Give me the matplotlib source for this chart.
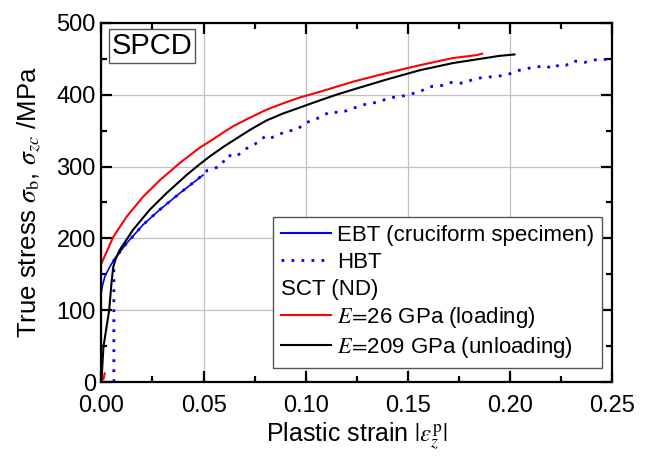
import matplotlib
matplotlib.use("Agg")
import matplotlib.pyplot as plt
from matplotlib.lines import Line2D
from matplotlib.ticker import MultipleLocator, FormatStrFormatter
import numpy as np

plt.rcParams['font.family'] = 'Liberation Sans'
plt.rcParams['mathtext.fontset'] = 'stix'

# EBT (cruciform specimen), blue solid
ebt_x = [0.0, 0.0004, 0.0017, 0.0040, 0.0066, 0.0123, 0.0204, 0.0286, 0.0384, 0.0465, 0.0497]
ebt_y = [125, 133, 147, 160, 172, 193, 219, 240, 263, 281, 288]

# HBT, blue dotted
hbt_x = [0.0061, 0.0061, 0.0066, 0.0123, 0.0204, 0.0286, 0.0384, 0.0465, 0.049, 0.052, 0.058,
         0.062, 0.065, 0.0685, 0.071, 0.0742, 0.0775, 0.080, 0.0823, 0.0856, 0.0913, 0.0946,
         0.0978, 0.1003, 0.1035, 0.1068, 0.1117, 0.1174, 0.123, 0.1296, 0.1361, 0.141, 0.1459,
         0.150, 0.1557, 0.1605, 0.167, 0.1711, 0.1768, 0.1817, 0.1866, 0.1915, 0.1947, 0.1997,
         0.2045, 0.211, 0.2176, 0.221, 0.224, 0.2274, 0.2306, 0.234, 0.2363, 0.2396, 0.2437,
         0.247, 0.250]
hbt_y = [0, 170, 172, 193, 219, 240, 263, 281, 287, 295, 300,
         316, 313, 319, 325, 330, 335, 342, 339, 343, 350, 350,
         356, 361, 365, 368, 376, 375, 381, 387, 390, 396, 397,
         400, 404, 411, 413, 417, 416, 421, 424, 425, 426, 429,
         434, 438, 440, 436, 442, 441, 447, 446, 445, 447, 450,
         449, 450]

# SCT (ND), E = 26 GPa (loading), red (small elastic piece, then the curve)
red_x = [0.0010, 0.0016, np.nan, 0.0, 0.0058, 0.0123, 0.0204, 0.0286, 0.0384, 0.048, 0.053,
         0.060, 0.0644, 0.0727, 0.0807, 0.089, 0.097, 0.1068, 0.115, 0.123, 0.1394, 0.1557,
         0.172, 0.1834, 0.1863]
red_y = [4, 12, np.nan, 165, 202, 230, 258, 281, 305, 326, 335,
         348, 356, 368, 379, 388, 396, 404, 411, 418, 430, 441,
         451, 455, 457]

# SCT (ND), E = 209 GPa (unloading), black
blk_x = [0.0, 0.0004, 0.0010, 0.0038, 0.0050, 0.0058, 0.0068, 0.009, 0.0155, 0.0237, 0.0319,
         0.0416, 0.048, 0.053, 0.060, 0.0644, 0.0727, 0.0807, 0.089, 0.097, 0.1068, 0.115,
         0.123, 0.1394, 0.1557, 0.172, 0.1947, 0.2021]
blk_y = [0, 20, 49, 100, 140, 160, 170, 184, 212, 240, 263,
         288, 303, 314, 328, 336, 351, 364, 374, 382, 392, 400,
         407, 421, 434, 444, 454, 456]

fig = plt.figure(figsize=(6.5, 4.57), dpi=100)
ax = fig.add_axes([0.156, 0.164, 0.786, 0.786])

ax.plot(ebt_x, ebt_y, color='#0000ff', lw=1.2)
ax.plot(hbt_x, hbt_y, color='#0000ff', lw=2.0, linestyle=(0, (1, 2.6)))
ax.plot(red_x, red_y, color='#ff0000', lw=1.5)
ax.plot(blk_x, blk_y, color='black', lw=1.5)

ax.set_xlim(0, 0.25)
ax.set_ylim(0, 500)
ax.xaxis.set_major_locator(MultipleLocator(0.05))
ax.xaxis.set_minor_locator(MultipleLocator(0.025))
ax.yaxis.set_major_locator(MultipleLocator(100))
ax.yaxis.set_minor_locator(MultipleLocator(50))
ax.xaxis.set_major_formatter(FormatStrFormatter('%.2f'))
ax.grid(True, which='major', color='#c0c0c0', lw=0.9)
ax.set_axisbelow(True)
for s in ax.spines.values():
    s.set_linewidth(1.6)
ax.tick_params(which='both', direction='in', top=True, right=True, width=1.6, labelsize=17)
ax.tick_params(which='major', length=8)
ax.tick_params(which='minor', length=4.5)
ax.tick_params(axis='x', pad=9)
ax.tick_params(axis='y', pad=4)

ax.set_xlabel(r'Plastic strain $|\varepsilon_z^{\mathrm{p}}|$', fontsize=18, labelpad=3)
ax.set_ylabel(r'True stress $\sigma_{\mathrm{b}}$, $\sigma_{zc}$ /MPa', fontsize=18.5, labelpad=10)

ax.text(0.02, 0.975, 'SPCD', transform=ax.transAxes, fontsize=21, va='top', ha='left',
        bbox=dict(boxstyle='square,pad=0.1', fc='white', ec='#555555', lw=1.0))

handles = [Line2D([], [], color='#0000ff', lw=1.5),
           Line2D([], [], color='#0000ff', lw=2.0, linestyle=(0, (1, 2.6))),
           Line2D([], [], color='none'),
           Line2D([], [], color='#ff0000', lw=1.5),
           Line2D([], [], color='black', lw=1.5)]
labels = ['EBT (cruciform specimen)', 'HBT', ' ',
          r'$E\!=\!$26 GPa (loading)', r'$E\!=\!$209 GPa (unloading)']
leg = ax.legend(handles, labels, loc='lower right', bbox_to_anchor=(0.979, 0.039),
                fontsize=16, frameon=True, fancybox=False, edgecolor='#555555',
                framealpha=1, handlelength=2.25, handletextpad=0.25, labelspacing=0.25,
                borderpad=0.35, borderaxespad=0)
leg.get_frame().set_linewidth(1.0)

fig.canvas.draw()
r = fig.canvas.get_renderer()
inv = ax.transAxes.inverted()
h0 = leg.get_lines()[0].get_window_extent(r)
t1 = leg.get_texts()[1].get_window_extent(r)
t3 = leg.get_texts()[3].get_window_extent(r)
px = h0.x0
py = 0.5 * ((t1.y0 + t1.y1) / 2 + (t3.y0 + t3.y1) / 2)
ax_pos = inv.transform((px, py))
ax.text(ax_pos[0], ax_pos[1], 'SCT (ND)', transform=ax.transAxes, fontsize=16,
        va='center', ha='left', zorder=10)

fig.savefig('out.png', dpi=100)
